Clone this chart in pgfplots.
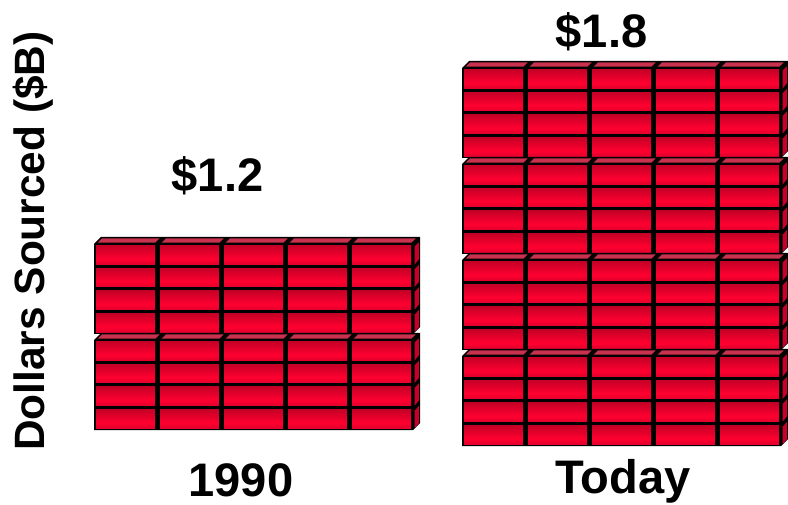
\documentclass[border=0pt]{standalone}
\usepackage{fontspec}
\setmainfont{Liberation Sans}
\usepackage{pgfplots}
\pgfplotsset{compat=1.18}
\definecolor{topface}{HTML}{C8324E}
\definecolor{sideface}{HTML}{C80028}
\definecolor{bA}{HTML}{E2002C}
\definecolor{bB}{HTML}{FF0030}
\definecolor{bC}{HTML}{C60026}
\pgfdeclareverticalshading{brick}{100bp}{color(0bp)=(bA);color(25bp)=(bA);color(40bp)=(bB);color(75bp)=(bC);color(100bp)=(bC)}
\tikzset{lab/.style={font=\fontsize{35.3}{35}\selectfont\bfseries, text=black, inner sep=0pt},
  ylab/.style={font=\fontsize{31.8}{32}\selectfont\bfseries, text=black, inner sep=0pt}}
% one stack of 5 x 4 bricks: #1 = left edge, #2 = y of the front's top
\newcommand{\stack}[2]{%
  \pgfmathsetmacro{\xr}{#1+319}\pgfmathsetmacro{\xrr}{#1+326}%
  \pgfmathsetmacro{\xs}{#1+7}\pgfmathsetmacro{\yt}{#2-7}%
  \pgfmathsetmacro{\yb}{#2+90}\pgfmathsetmacro{\ybb}{#2+83}%
  \edef\temp{\noexpand\addplot[fill=black,draw=none,no markers,forget plot] coordinates {(#1,\yb)(#1,#2)(\xs,\yt)(\xrr,\yt)(\xrr,\ybb)(\xr,\yb)} --cycle;}\temp
  \pgfplotsforeachungrouped \c in {0,1,2,3,4}{%
    \pgfmathsetmacro{\il}{#1+2+64*\c}\pgfmathsetmacro{\ir}{\il+59.2}%
    \pgfmathsetmacro{\ta}{\il+1.6}\pgfmathsetmacro{\tb}{\il+6}\pgfmathsetmacro{\tc}{\il+63.7}\pgfmathsetmacro{\td}{\il+59.3}%
    \pgfmathsetmacro{\tu}{#2-5.7}\pgfmathsetmacro{\tl}{#2-1.3}%
    \edef\temp{\noexpand\addplot[fill=topface,draw=none,no markers,forget plot] coordinates {(\ta,\tl)(\tb,\tu)(\tc,\tu)(\td,\tl)} --cycle;}\temp
    \pgfplotsforeachungrouped \r in {0,1,2,3}{%
      \pgfmathsetmacro{\ya}{#2+1.7+22.6*\r}\pgfmathsetmacro{\yc}{\ya+18.7}%
      \edef\temp{\noexpand\addplot[shading=brick,draw=none,no markers,forget plot] coordinates {(\il,\ya)(\ir,\ya)(\ir,\yc)(\il,\yc)} --cycle;}\temp
    }%
  }%
  \pgfplotsforeachungrouped \r in {0,1,2,3}{%
    \pgfmathsetmacro{\ya}{#2+1.7+22.6*\r}\pgfmathsetmacro{\yc}{\ya+18.7}%
    \pgfmathsetmacro{\sa}{\xr+1.6}\pgfmathsetmacro{\sb}{\xr+5.8}%
    \pgfmathsetmacro{\yaa}{\ya+1}\pgfmathsetmacro{\yab}{\ya-3.4}\pgfmathsetmacro{\ycb}{\yc-5}%
    \edef\temp{\noexpand\addplot[fill=sideface,draw=none,no markers,forget plot] coordinates {(\sa,\yaa)(\sb,\yab)(\sb,\ycb)(\sa,\yc)} --cycle;}\temp
  }%
}
\begin{document}
\begin{tikzpicture}[x=1pt,y=1pt]
\begin{axis}[
  scale only axis, width=591pt, height=378.75pt,
  xmin=0, xmax=788, ymin=0, ymax=505, y dir=reverse,
  axis lines=none, clip=false,
  enlargelimits=false,
]
\path[use as bounding box] (axis cs:0,0) rectangle (axis cs:788,505);
% 1990
\stack{94}{244}
\stack{94}{340}
% Today
\stack{462}{68}
\stack{462}{164}
\stack{462}{260}
\stack{462}{356}
\node[lab] at (axis cs:217.5,176) {\$1.2};
\node[lab] at (axis cs:601.5,32) {\$1.8};
\node[lab] at (axis cs:241,480) {1990};
\node[lab] at (axis cs:623,481) {Today};
\node[ylab,rotate=90] at (axis cs:33,241) {Dollars Sourced (\$B)};
\end{axis}
\end{tikzpicture}
\end{document}
